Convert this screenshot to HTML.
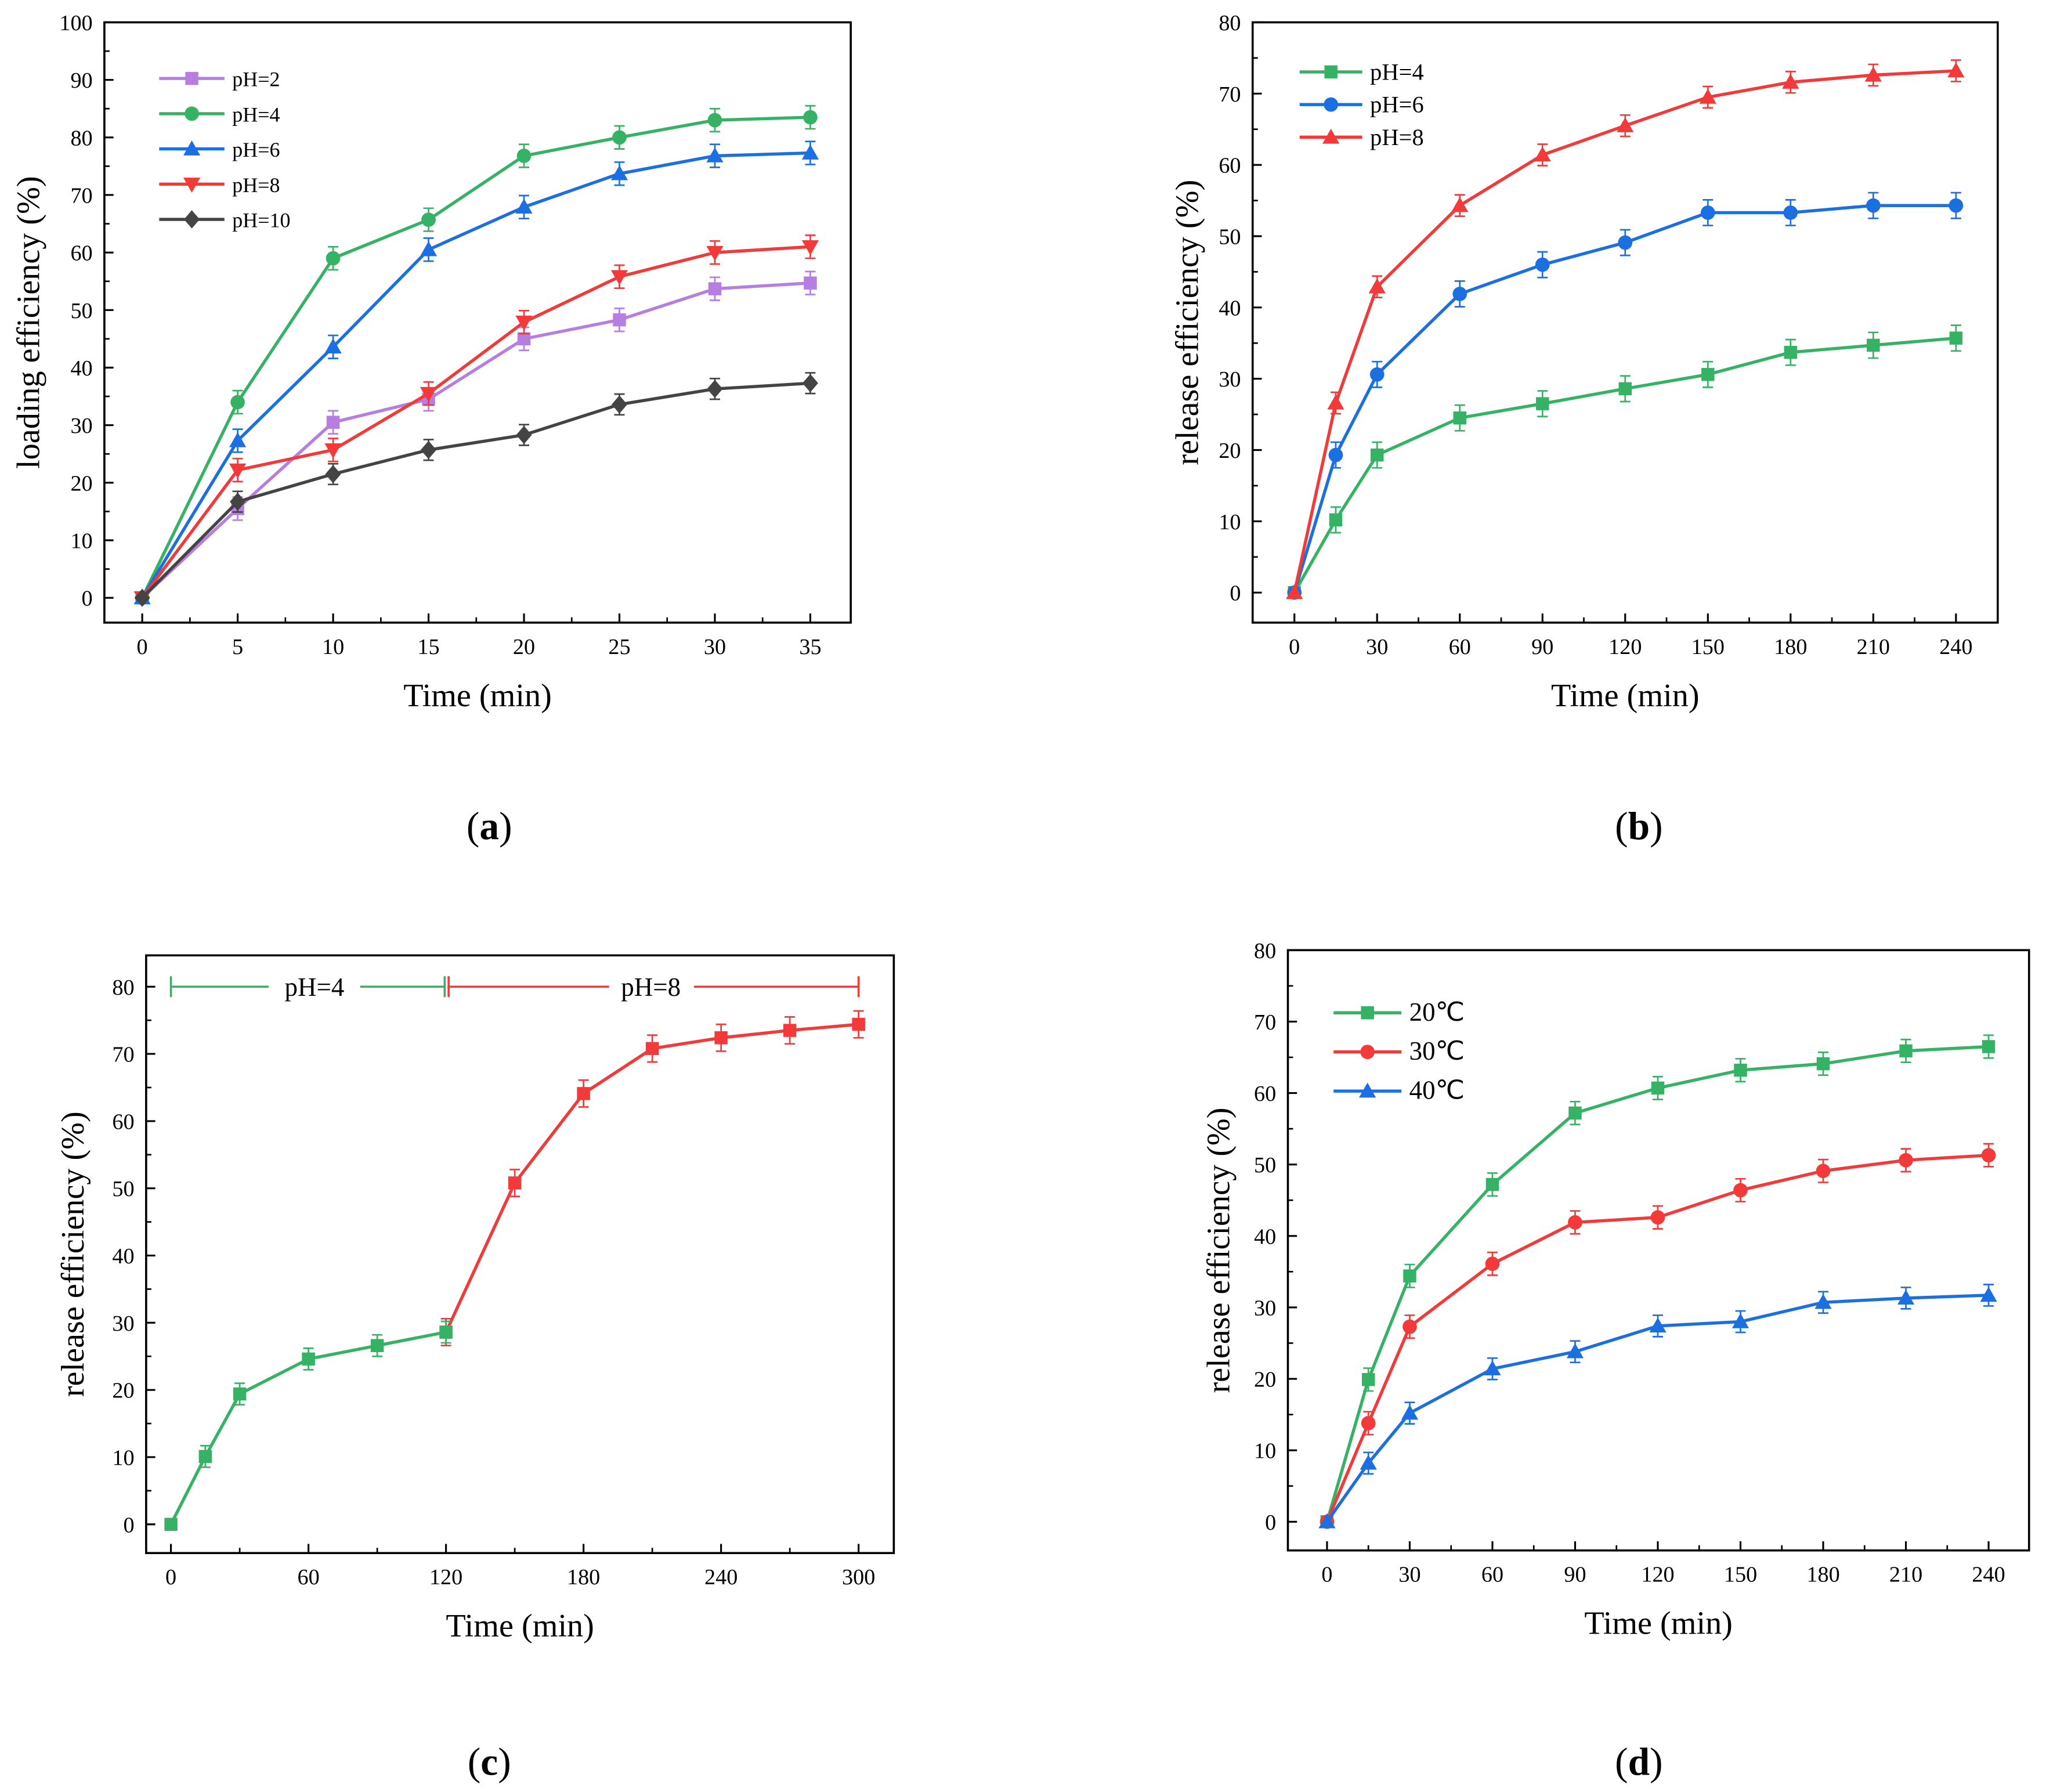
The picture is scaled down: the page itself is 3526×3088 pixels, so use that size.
<!DOCTYPE html>
<html><head><meta charset="utf-8"><style>
html,body{margin:0;padding:0;background:#fff;}
svg{display:block;}
svg text{font-family:"Liberation Serif",serif;}
</style></head><body>
<svg id="fig" font-family="Liberation Serif, serif" width="3526" height="3088" viewBox="0 0 1568 1373" xmlns="http://www.w3.org/2000/svg"></svg>
<script>
// ---- data ----
const aX=[0,5,10,15,20,25,30,35];
const aPH2=[0,15.5,30.5,34.5,45,48.3,53.7,54.7];
const aPH4=[0,34,59,65.7,76.8,80,83,83.5];
const aPH6=[0,27.3,43.6,60.5,67.9,73.7,76.8,77.3];
const aPH8=[0,22.2,25.7,35.5,47.9,55.8,60,61];
const aPH10=[0,16.7,21.5,25.7,28.3,33.6,36.3,37.3];
const bX=[0,15,30,60,90,120,150,180,210,240];
const bPH4=[0,10.2,19.3,24.5,26.5,28.6,30.6,33.7,34.7,35.7];
const bPH6=[0,19.3,30.6,41.9,46,49.1,53.3,53.3,54.3,54.3];
const bPH8=[0,26.6,42.9,54.3,61.4,65.5,69.5,71.6,72.6,73.2];
const cXg=[0,15,30,60,90,120];
const cYg=[0,10.1,19.4,24.6,26.6,28.6];
const cXr=[120,150,180,210,240,270,300];
const cYr=[28.6,50.8,64.1,70.8,72.4,73.5,74.4];
const dX=[0,15,30,60,90,120,150,180,210,240];
const d20=[0,19.9,34.4,47.2,57.2,60.7,63.2,64.1,65.9,66.5];
const d30=[0,13.8,27.3,36.1,41.9,42.6,46.4,49.1,50.6,51.3];
const d40=[0,8.2,15.2,21.4,23.8,27.4,28,30.7,31.3,31.7];
const aXTicks=[0,5,10,15,20,25,30,35];
const aYTicks=[0,10,20,30,40,50,60,70,80,90,100];
const bXTicks=[0,30,60,90,120,150,180,210,240];
const bYTicks=[0,10,20,30,40,50,60,70,80];
const cXTicks=[0,60,120,180,240,300];
const cYTicks=[0,10,20,30,40,50,60,70,80];

const NS="http://www.w3.org/2000/svg";
const svg=document.getElementById('fig');
const FF='Liberation Serif, serif';
function mk(tag,attrs,parent){const e=document.createElementNS(NS,tag);for(const k in attrs)e.setAttribute(k,attrs[k]);if(tag==='text')e.setAttribute('font-family',FF);(parent||svg).appendChild(e);return e;}
const G='#36b265',B='#1c6fe0',R='#f23a3a',P='#b57ee0',K='#444444';

function marker(g,type,x,y,c){
  const s=5;let m;
  if(type==='sq')m=mk('rect',{x:x-s,y:y-s,width:2*s,height:2*s,fill:c},g);
  else if(type==='ci')m=mk('circle',{cx:x,cy:y,r:s+0.5,fill:c},g);
  else if(type==='up')m=mk('polygon',{points:`${x},${y-6.5} ${x-6.5},${y+5} ${x+6.5},${y+5}`,fill:c},g);
  else if(type==='dn')m=mk('polygon',{points:`${x},${y+6.5} ${x-6.5},${y-5} ${x+6.5},${y-5}`,fill:c},g);
  else m=mk('polygon',{points:`${x},${y-7} ${x+6},${y} ${x},${y+7} ${x-6},${y}`,fill:c},g);
  
  
}

function panel(p){
  const g=mk('g',{});
  
  
  const sx=v=>p.x0+(v-p.xa)*(p.x1-p.x0)/(p.xb-p.xa);
  const sy=v=>p.y0-(v-p.ya)*(p.y0-p.y1)/(p.yb-p.ya);
  const frame=mk('rect',{x:p.L,y:p.T,width:p.R-p.L,height:p.Bt-p.T,fill:'none',stroke:'#000','stroke-width':1.6},g);
  
  
  p.xt.forEach((v,i)=>{
    const x=sx(v);
    mk('line',{x1:x,y1:p.Bt,x2:x,y2:p.Bt-7,stroke:'#000','stroke-width':1.4},g);
    const t=mk('text',{x:x,y:p.Bt+24,'text-anchor':'middle','font-size':17},g);t.textContent=v;
    
    
    if(i<p.xt.length-1){const xm=sx((v+p.xt[i+1])/2);mk('line',{x1:xm,y1:p.Bt,x2:xm,y2:p.Bt-4,stroke:'#000','stroke-width':1.2},g);}
  });
  p.yt.forEach((v,i)=>{
    const y=sy(v);
    mk('line',{x1:p.L,y1:y,x2:p.L+7,y2:y,stroke:'#000','stroke-width':1.4},g);
    const t=mk('text',{x:p.L-9,y:y+6,'text-anchor':'end','font-size':17},g);t.textContent=v;
    
    
    if(i<p.yt.length-1){const ym=sy((v+p.yt[i+1])/2);mk('line',{x1:p.L,y1:ym,x2:p.L+4,y2:ym,stroke:'#000','stroke-width':1.2},g);}
  });
  const xt=mk('text',{x:(p.L+p.R)/2,y:p.Bt+64,'text-anchor':'middle','font-size':25},g);xt.textContent='Time (min)';
  
  
  const yx=p.ytx,yy=(p.T+p.Bt)/2;
  const yt=mk('text',{x:yx,y:yy,'text-anchor':'middle','font-size':25,transform:`rotate(-90 ${yx} ${yy})`},g);yt.textContent=p.ytitle;
  
  
  const lab=mk('text',{x:p.labx,y:p.laby,'text-anchor':'middle','font-size':30},g);
  lab.innerHTML='(<tspan font-weight="bold">'+p.lab+'</tspan>)';
  
  
  p.series.forEach(s=>{
    const sg=mk('g',{},g);
    
    
    const pts=s.x.map((v,i)=>sx(v)+','+sy(s.y[i])).join(' ');
    mk('polyline',{points:pts,fill:'none',stroke:s.c,'stroke-width':2.4},sg);
    s.x.forEach((v,i)=>{
      const x=sx(v),y=sy(s.y[i]);
      if(s.y[i]>0){const e=(p.y0-p.y1)/(p.yb-p.ya)*s.err;
        mk('path',{d:`M${x},${y-e}V${y+e}M${x-4},${y-e}H${x+4}M${x-4},${y+e}H${x+4}`,stroke:s.c,'stroke-width':1.2,fill:'none'},sg);}
      marker(sg,s.m,x,y,s.c);
    });
  });
  (p.legend||[]).forEach((l,i)=>{
    const y=p.lgy+i*p.lgdy;
    const lg=mk('g',{},g);
    
    
    mk('line',{x1:p.lgx,y1:y,x2:p.lgx+p.lgw,y2:y,stroke:l.c,'stroke-width':2.4},lg);
    marker(lg,l.m,p.lgx+p.lgw/2,y,l.c);
    const t=mk('text',{x:p.lgx+p.lgw+6,y:y+6,'font-size':p.lgfs},lg);t.textContent=l.t;
  });
  return {g,sx,sy};
}

panel({name:'panel-a',L:80,R:652,T:17,Bt:477,x0:109,x1:621,xa:0,xb:35,y0:458,y1:17,ya:0,yb:100,
  xt:aXTicks,yt:aYTicks,ytitle:'loading efficiency (%)',ytx:30,lab:'a',labx:375,laby:643,
  series:[{id:'ph2',x:aX,y:aPH2,c:P,m:'sq',err:2},{id:'ph4',x:aX,y:aPH4,c:G,m:'ci',err:2},
    {id:'ph6',x:aX,y:aPH6,c:B,m:'up',err:2},{id:'ph8',x:aX,y:aPH8,c:R,m:'dn',err:2},{id:'ph10',x:aX,y:aPH10,c:K,m:'di',err:1.8}],
  legend:[{t:'pH=2',c:P,m:'sq'},{t:'pH=4',c:G,m:'ci'},{t:'pH=6',c:B,m:'up'},{t:'pH=8',c:R,m:'dn'},{t:'pH=10',c:K,m:'di'}],
  lgx:122,lgy:60,lgdy:27,lgw:50,lgfs:16});

panel({name:'panel-b',L:960,R:1531,T:17,Bt:477,x0:992,x1:1499,xa:0,xb:240,y0:454,y1:17,ya:0,yb:80,
  xt:bXTicks,yt:bYTicks,ytitle:'release efficiency (%)',ytx:918,lab:'b',labx:1256,laby:643,
  series:[{id:'ph4',x:bX,y:bPH4,c:G,m:'sq',err:1.8},{id:'ph6',x:bX,y:bPH6,c:B,m:'ci',err:1.8},{id:'ph8',x:bX,y:bPH8,c:R,m:'up',err:1.5}],
  legend:[{t:'pH=4',c:G,m:'sq'},{t:'pH=6',c:B,m:'ci'},{t:'pH=8',c:R,m:'up'}],
  lgx:996,lgy:55,lgdy:25,lgw:48,lgfs:18});

const pc=panel({name:'panel-c',L:112,R:685,T:732,Bt:1190,x0:131,x1:658,xa:0,xb:300,y0:1168,y1:756,ya:0,yb:80,
  xt:cXTicks,yt:cYTicks,ytitle:'release efficiency (%)',ytx:64,lab:'c',labx:375,laby:1360,
  series:[{id:'ph8-phase',x:cXr,y:cYr,c:R,m:'sq',err:2},{id:'ph4-phase',x:cXg,y:cYg,c:G,m:'sq',err:1.6}]});
(function(){
  const y=pc.sy(80), g=pc.g;
  const ann=mk('g',{},g);
  
  
  const a=pc.sx(0),m=pc.sx(120),e=pc.sx(300);
  mk('path',{d:`M${a},${y}H${a+75}M${a+145},${y}H${m-1}M${a},${y-8}V${y+8}M${m-1},${y-8}V${y+8}`,stroke:G,'stroke-width':1.6,fill:'none'},ann);
  mk('path',{d:`M${m+2},${y}H${m+125}M${m+190},${y}H${e}M${m+2},${y-8}V${y+8}M${e},${y-8}V${y+8}`,stroke:R,'stroke-width':1.6,fill:'none'},ann);
  const t1=mk('text',{x:a+110,y:y+7,'text-anchor':'middle','font-size':20},ann);t1.textContent='pH=4';
  const t2=mk('text',{x:m+157,y:y+7,'text-anchor':'middle','font-size':20},ann);t2.textContent='pH=8';
})();

panel({name:'panel-d',L:987,R:1555,T:728,Bt:1188,x0:1017,x1:1524,xa:0,xb:240,y0:1166,y1:728,ya:0,yb:80,
  xt:bXTicks,yt:bYTicks,ytitle:'release efficiency (%)',ytx:942,lab:'d',labx:1256,laby:1360,
  series:[{id:'20c',x:dX,y:d20,c:G,m:'sq',err:1.6},{id:'30c',x:dX,y:d30,c:R,m:'ci',err:1.6},{id:'40c',x:dX,y:d40,c:B,m:'up',err:1.5}],
  legend:[{t:'20\u2103',c:G,m:'sq'},{t:'30\u2103',c:R,m:'ci'},{t:'40\u2103',c:B,m:'up'}],
  lgx:1022,lgy:776,lgdy:30,lgw:52,lgfs:20});
</script>
</body></html>
